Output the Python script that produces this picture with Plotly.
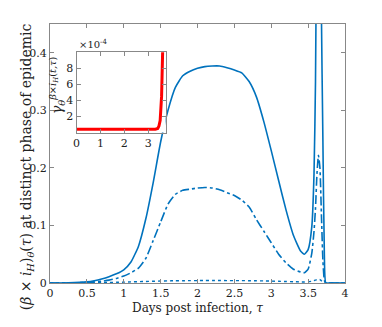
import plotly.graph_objects as go

# ---------------------------------------
# DATA
# ---------------------------------------
tau = [0, 0.25, 0.5, 0.6, 0.7, 0.8, 0.9, 1.0, 1.1, 1.2, 1.3, 1.4, 1.5, 1.6, 1.7, 1.8, 1.9,
       2.0, 2.1, 2.2, 2.3, 2.4, 2.5, 2.6, 2.7, 2.8, 2.9, 3.0, 3.1, 3.2, 3.3, 3.4, 3.45, 3.5,
       3.55, 3.58, 3.6, 3.62, 3.64, 3.66, 3.68, 3.7, 3.72, 3.74, 3.8, 4.0]

solid = [0, 0.0003, 0.002, 0.004, 0.007, 0.011, 0.016, 0.023, 0.037, 0.064, 0.112, 0.175,
         0.245, 0.3, 0.34, 0.36, 0.368, 0.373, 0.376, 0.377, 0.377, 0.374, 0.37, 0.365,
         0.35, 0.323, 0.28, 0.23, 0.178, 0.127, 0.083, 0.055, 0.05, 0.058, 0.098, 0.19, 0.35,
         0.7, 1.0, 1.0, 0.47, 0.25, 0.05, 0.0, 0, 0]

dashdot = [0, 0.0002, 0.001, 0.002, 0.003, 0.005, 0.008, 0.012, 0.018, 0.026, 0.043, 0.074,
           0.106, 0.137, 0.154, 0.161, 0.163, 0.165, 0.166, 0.165, 0.162, 0.157, 0.152, 0.144,
           0.132, 0.11, 0.09, 0.07, 0.05, 0.035, 0.024, 0.019, 0.018, 0.024, 0.052, 0.09, 0.13,
           0.19, 0.222, 0.2, 0.12, 0.04, 0.005, 0.0, 0, 0]

dotted = [0, 0.0, 0.0002, 0.0004, 0.0006, 0.0009, 0.0012, 0.0015, 0.0019, 0.0023, 0.0027,
          0.003, 0.0035, 0.0037, 0.0039, 0.004, 0.0041, 0.0042, 0.0043, 0.0043, 0.0043, 0.0042,
          0.0042, 0.0041, 0.004, 0.0038, 0.0036, 0.0033, 0.003, 0.0026, 0.0022, 0.0019, 0.0018,
          0.002, 0.003, 0.004, 0.005, 0.006, 0.0065, 0.006, 0.004, 0.002, 0.0005, 0.0, 0, 0]

tau_inset = [0, 0.5, 1.0, 1.5, 2.0, 2.5, 3.0, 3.3, 3.4, 3.45, 3.5, 3.53, 3.56, 3.58, 3.6, 3.62]
gamma_inset = [0.4e-4, 0.4e-4, 0.4e-4, 0.4e-4, 0.4e-4, 0.4e-4, 0.4e-4, 0.42e-4, 0.5e-4, 0.8e-4,
               1.5e-4, 2.5e-4, 4.5e-4, 7e-4, 10e-4, 12e-4]

main_ticks_x = [0, 0.5, 1, 1.5, 2, 2.5, 3, 3.5, 4]
main_tick_text_x = ["0", "0.5", "1", "1.5", "2", "2.5", "3", "3.5", "4"]
main_ticks_y = [0, 0.1, 0.2, 0.3, 0.4]
inset_ticks_y = [2e-4, 4e-4, 6e-4, 8e-4]
inset_tick_text_y = ["2", "4", "6", "8"]

BLUE = "#0072BD"
FONT = "DejaVu Serif"
TXT = "#222222"

fig = go.Figure()

fig.add_trace(go.Scatter(x=tau, y=solid, mode="lines",
                         line=dict(color=BLUE, width=1.6, shape="spline", smoothing=0.5),
                         showlegend=False))
fig.add_trace(go.Scatter(x=tau, y=dashdot, mode="lines",
                         line=dict(color=BLUE, width=1.6, dash="dashdot", shape="spline", smoothing=0.5),
                         showlegend=False))
fig.add_trace(go.Scatter(x=tau, y=dotted, mode="lines",
                         line=dict(color=BLUE, width=1.4, dash="dot", shape="spline", smoothing=0.5),
                         showlegend=False))

# inset
fig.add_trace(go.Scatter(x=tau_inset, y=gamma_inset, mode="lines", xaxis="x2", yaxis="y2",
                         line=dict(color="#FF0000", width=3), showlegend=False))

axis_style = dict(showline=True, linecolor="#888888", linewidth=1, mirror="ticks",
                  ticks="inside", ticklen=4, tickcolor="#888888", showgrid=False,
                  zeroline=False, automargin=False,
                  tickfont=dict(family=FONT, size=11, color=TXT))

# page body adds 8px offset, margins compensate
fig.update_layout(
    width=382, height=327,
    margin=dict(l=42, r=45, t=16, b=52),
    plot_bgcolor="white", paper_bgcolor="white",
    font=dict(family=FONT, color=TXT),
    xaxis=dict(range=[0, 4], tickvals=main_ticks_x, ticktext=main_tick_text_x,
               title=dict(text="Days post infection, <i>τ</i>", font=dict(size=12), standoff=4),
               **axis_style),
    yaxis=dict(range=[0, 0.45], tickvals=main_ticks_y, **axis_style),
    xaxis2=dict(domain=[0.09, 0.392], anchor="y2", range=[0, 3.73],
                tickvals=[0, 1, 2, 3], **axis_style),
    yaxis2=dict(domain=[0.581, 0.891], anchor="x2", range=[0, 10e-4],
                tickvals=inset_ticks_y, ticktext=inset_tick_text_y, **axis_style),
)

# main y label
fig.add_annotation(xref="paper", yref="paper", x=-0.075, y=0.45, xanchor="center",
                   yanchor="middle", showarrow=False, textangle=-90,
                   text="(<i>β</i> × <i>i<sub>H</sub></i>)<sub><i>θ</i></sub>(<i>τ</i>) at distinct phase of epidemic",
                   font=dict(family=FONT, size=14, color=TXT))

fig.add_annotation(xref="x2 domain", yref="y2 domain", x=0.0, y=1.0, xanchor="left",
                   yanchor="bottom", showarrow=False,
                   text="×10<sup>-4</sup>", font=dict(family=FONT, size=10, color=TXT))

# inset y label
fig.add_annotation(xref="paper", yref="paper", x=0.022, y=0.766, xanchor="center",
                   yanchor="middle", showarrow=False, textangle=-90,
                   text="<i>γ<sub>θ</sub></i><sup><i>β</i>×<i>i<sub>H</sub></i>(<i>t,τ</i>)</sup>",
                   font=dict(family=FONT, size=14, color=TXT))

fig.write_html("out.html")
